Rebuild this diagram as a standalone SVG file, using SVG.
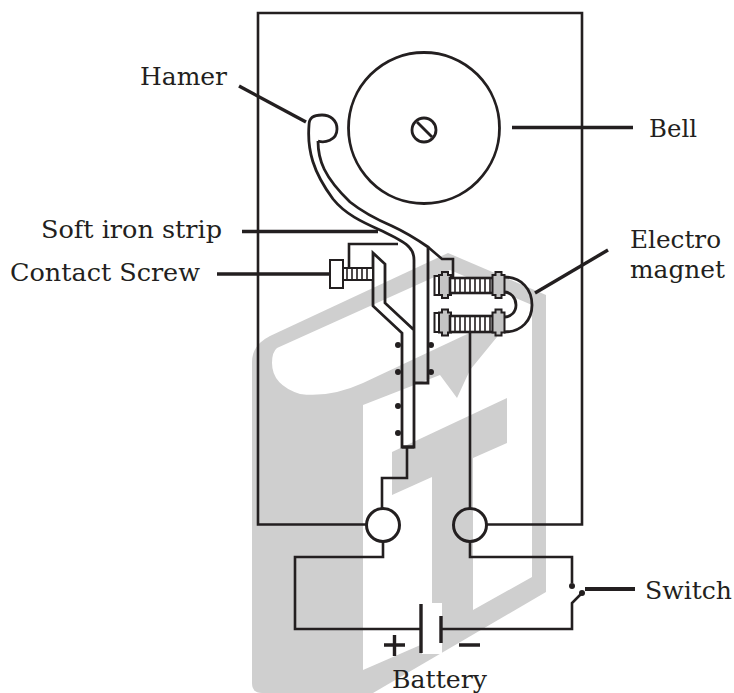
<svg xmlns="http://www.w3.org/2000/svg" width="734" height="693" viewBox="0 0 734 693">
<style>
.w{fill:none;stroke:#231f20;stroke-width:2.6;stroke-linejoin:miter}
.t{fill:none;stroke:#231f20;stroke-width:3.4}
.m{fill:none;stroke:#231f20;stroke-width:2.8}
.g{fill:#c4c4c4;stroke:#231f20;stroke-width:2}
.h{fill:#fff;stroke:#231f20;stroke-width:2}
.s{fill:#fff;stroke:#231f20;stroke-width:2.6}
.hatch{stroke:#231f20;stroke-width:1.6;fill:none}
.d{fill:#231f20}
text{font-family:"DejaVu Serif","Liberation Serif",serif;font-size:24px;fill:#231f20}
</style>
<defs>
<path id="washer" class="g" d="M-3 -13H3V-10H6V10H3V13H-3V10H-6V-10H-3Z"/>
</defs>
<rect width="734" height="693" fill="#fff"/>
<g id="watermark">
<path d="M252 362Q252 345 270 336L448 253L546 295L546 592L373 693L262 693Q252 693 252 683Z" fill="#cfcfcf"/>
<path d="M277 348L450 270L532 305L532 577L473 610L473 458L507 443L507 398L392 452L392 495L432 477L432 640L363 670L363 405L440 375L457 398L470 370L497 337L497 320L363 383Q330 398 300 394Q272 385 272 363Q272 352 277 348Z" fill="#fff"/>
<rect x="422" y="603" width="20" height="51" fill="#fff"/>
</g>
<g id="connectors">
<path class="w" d="M366 524.5H258V13H582V524.5H487"/>
<path class="w" d="M407 447V478H382V508"/>
<path class="w" d="M470 332V508"/>
<path class="w" d="M383 542V557H295V629H420"/>
<path class="w" d="M470 542V557H572V583"/>
<path class="w" d="M441 629H572V603L582 593"/>
<path class="w" d="M349 267V244H398"/>
<path class="w" d="M428 247L442 259H453V278"/>
<path class="t" d="M239 86L306 122"/>
<path class="t" d="M512 127.500H633"/>
<path class="t" d="M242 231.500H378"/>
<path class="t" d="M217 274H330"/>
<path class="t" d="M535 293L608 250"/>
<path class="t" d="M585 589H635" style="stroke-width:4"/>
</g>
<g id="bell">
<circle class="m" cx="424" cy="128" r="75.500"/>
<circle class="m" cx="424" cy="130" r="12"/>
<path class="m" d="M417 122L432 137"/>
</g>
<g id="hammer">
<path class="m" d="M318 141C324 143 337 141 337 129C337 120 330 115 322 115C313 115 309 118 309 125C307 150 313 172 333 199C345 214 362 222 380 230C392 236 404 241 409 247C413 251 414 255 414 260V447H402V333L373 306V253L385 264V303L414 330"/>
<path class="m" d="M318 141C318 160 324 177 350 202C365 214 378 220 392 226C405 232 415 238 428 247V383H415"/>
<circle class="d" cx="398" cy="345" r="3"/>
<circle class="d" cx="398" cy="372" r="3"/>
<circle class="d" cx="398" cy="406" r="3"/>
<circle class="d" cx="398" cy="433" r="3"/>
<circle class="d" cx="431" cy="345" r="3"/>
<circle class="d" cx="431" cy="372" r="3"/>
<path class="w" d="M402 447H414" style="stroke-width:3"/>
</g>
<g id="contact-screw">
<rect class="h" x="330" y="260" width="13" height="28"/>
<rect class="h" x="343" y="268" width="30" height="12"/>
<path class="hatch" d="M347 268V280M352 268V280M357 268V280M362 268V280M367 268V280"/>
</g>
<g id="electromagnet">
<path class="m" d="M504 277C522 277 532 290 532 305C532 320 522 332 504 332"/>
<path class="m" d="M504 292C511 292 516 298 516 305C516 312 511 317 504 317"/>
<rect class="h" x="434.500" y="276" width="6" height="19"/>
<use href="#washer" x="445" y="285"/>
<rect class="s" x="450" y="278" width="43" height="15"/>
<path class="hatch" d="M455 278V293M460 278V293M465 278V293M470 278V293M475 278V293M480 278V293M485 278V293M490 278V293"/>
<use href="#washer" x="498.500" y="285"/>
<rect class="h" x="434.500" y="313" width="6" height="19"/>
<use href="#washer" x="445" y="322.500"/>
<rect class="s" x="450" y="316" width="43" height="16"/>
<path class="hatch" d="M455 316V332M460 316V332M465 316V332M470 316V332M475 316V332M480 316V332M485 316V332M490 316V332"/>
<use href="#washer" x="498.500" y="322.500"/>
</g>
<g id="terminals">
<circle cx="383" cy="525" r="16.500" fill="#fff" stroke="#231f20" stroke-width="3"/>
<circle cx="470" cy="525" r="16.500" fill="none" stroke="#231f20" stroke-width="3"/>
</g>
<g id="switch">
<circle class="d" cx="572" cy="586" r="3"/>
<circle class="d" cx="582" cy="593" r="3"/>
</g>
<g id="battery">
<path class="t" d="M421 604V653M441 616V643"/>
<path class="t" d="M384 645H405M394.500 635V656M459 645H480"/>
</g>
<g id="labels">
<text x="140" y="85" textLength="87" lengthAdjust="spacingAndGlyphs">Hamer</text>
<text x="649" y="137" textLength="48" lengthAdjust="spacingAndGlyphs">Bell</text>
<text x="41" y="238" textLength="181" lengthAdjust="spacingAndGlyphs">Soft iron strip</text>
<text x="10" y="281" textLength="190" lengthAdjust="spacingAndGlyphs">Contact Screw</text>
<text x="630" y="248" textLength="91" lengthAdjust="spacingAndGlyphs">Electro</text>
<text x="630" y="278" textLength="95" lengthAdjust="spacingAndGlyphs">magnet</text>
<text x="645" y="599" textLength="87" lengthAdjust="spacingAndGlyphs">Switch</text>
<text x="392" y="688" textLength="95" lengthAdjust="spacingAndGlyphs">Battery</text>
</g>
</svg>
